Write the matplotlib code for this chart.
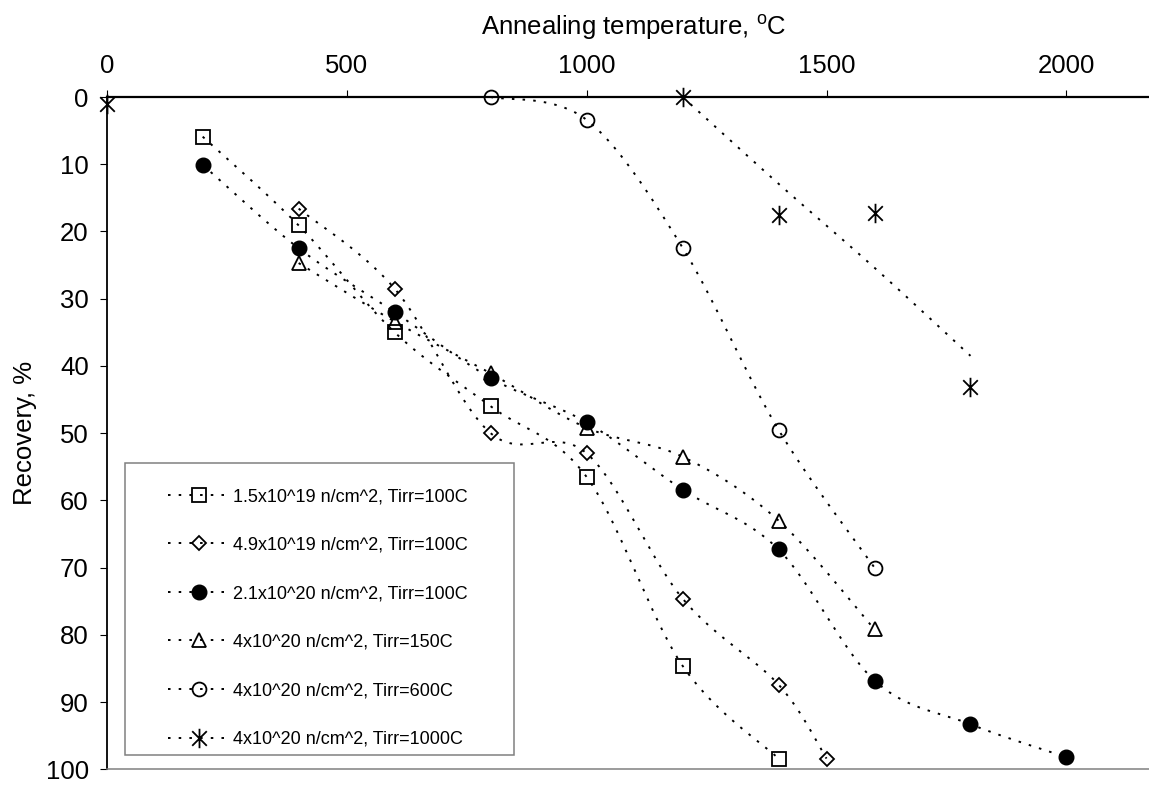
import numpy as np
import matplotlib
matplotlib.use("Agg")
import matplotlib.pyplot as plt
from matplotlib.lines import Line2D
from matplotlib.patches import Rectangle
from matplotlib.path import Path

plt.rcParams["font.family"] = ["Liberation Sans", "DejaVu Sans"]
plt.rcParams["mathtext.fontset"] = "custom"
plt.rcParams["mathtext.rm"] = "Liberation Sans"

# ---- data: annealing temperature (C) vs recovery (%) ----
t_sq = [200, 400, 600, 800, 1000, 1200, 1400]
r_sq = [5.9, 19.1, 35.0, 46.0, 56.5, 84.6, 98.4]

t_di = [400, 600, 800, 1000, 1200, 1400, 1500]
r_di = [16.6, 28.5, 50.0, 53.0, 74.6, 87.4, 98.4]

t_fc = [200, 400, 600, 800, 1000, 1200, 1400, 1600, 1800, 2000]
r_fc = [10.1, 22.5, 32.0, 41.8, 48.4, 58.4, 67.3, 86.8, 93.3, 98.2]

t_tr = [400, 600, 800, 1000, 1200, 1400, 1600]
r_tr = [24.7, 33.4, 41.1, 49.2, 53.5, 63.0, 79.2]

t_oc = [800, 1000, 1200, 1400, 1600]
r_oc = [0.0, 3.4, 22.4, 49.5, 70.0]

t_st = [0, 1200, 1400, 1600, 1800]
r_st = [1.0, 0.0, 17.6, 17.2, 43.1]

# guide line for the Tirr=1000C set
t_st_line = [1200, 1400, 1600, 1800]
r_st_line = [0.0, 12.9, 25.4, 38.5]

labels = [
    "1.5x10^19 n/cm^2, Tirr=100C",
    "4.9x10^19 n/cm^2, Tirr=100C",
    "2.1x10^20 n/cm^2, Tirr=100C",
    "4x10^20 n/cm^2, Tirr=150C",
    "4x10^20 n/cm^2, Tirr=600C",
    "4x10^20 n/cm^2, Tirr=1000C",
]

x_ticks = [0, 500, 1000, 1500, 2000]
y_ticks = list(range(0, 101, 10))


def smooth(xs, ys, n=40):
    """Cubic Bezier spline through the points (Catmull-Rom tangents)."""
    P = np.column_stack([xs, ys]).astype(float)
    out = []
    t = np.linspace(0.0, 1.0, n)[:, None]
    for i in range(len(P) - 1):
        p0 = P[i - 1] if i > 0 else P[i]
        p1, p2 = P[i], P[i + 1]
        p3 = P[i + 2] if i + 2 < len(P) else P[i + 1]
        c1 = p1 + (p2 - p0) / 6.0
        c2 = p2 - (p3 - p1) / 6.0
        seg = ((1 - t) ** 3) * p1 + 3 * ((1 - t) ** 2) * t * c1 \
            + 3 * (1 - t) * t ** 2 * c2 + t ** 3 * p2
        out.append(seg if i == 0 else seg[1:])
    s = np.vstack(out)
    return s[:, 0], s[:, 1]


# six-armed asterisk marker
star = Path(
    [(0, -1), (0, 1), (-0.75, -0.75), (0.75, 0.75), (-0.75, 0.75), (0.75, -0.75)],
    [Path.MOVETO, Path.LINETO, Path.MOVETO, Path.LINETO, Path.MOVETO, Path.LINETO],
)

line_kw = dict(color="black", lw=1.4, dashes=(1.3, 4.2))
styles = [
    dict(marker="s", ms=10, mfc="none", mec="black", mew=1.3),
    dict(marker="D", ms=6.8, mfc="none", mec="black", mew=1.3),
    dict(marker="o", ms=10.5, mfc="black", mec="black", mew=1.0),
    dict(marker="^", ms=10.5, mfc="none", mec="black", mew=1.3),
    dict(marker="o", ms=10, mfc="none", mec="black", mew=1.3),
    dict(marker=star, ms=14, mfc="none", mec="black", mew=1.3),
]

fig = plt.figure(figsize=(11.49, 7.85), dpi=100)
W, H = 1149.0, 785.0
ax = fig.add_axes([106.7 / W, 1 - 769.3 / H, (W - 106.7) / W, (769.3 - 97) / H])

series = [(t_sq, r_sq), (t_di, r_di), (t_fc, r_fc), (t_tr, r_tr), (t_oc, r_oc)]
for (tx, ry), st in zip(series, styles[:5]):
    sx, sy = smooth(tx, ry)
    ax.plot(sx, sy, **line_kw, zorder=2)
    ax.plot(tx, ry, ls="none", clip_on=False, zorder=3, **st)

sx, sy = smooth(t_st_line, r_st_line)
ax.plot(sx, sy, **line_kw, zorder=2)
ax.plot(t_st, r_st, ls="none", clip_on=False, zorder=3, **styles[5])

ax.set_xlim(0, 2172)
ax.set_ylim(100, 0)
ax.xaxis.tick_top()
ax.set_xticks(x_ticks)
ax.set_yticks(y_ticks)
ax.tick_params(axis="x", direction="out", length=5, width=0.8, pad=9,
               labelsize=18.5, color="black")
ax.tick_params(axis="y", direction="out", length=5, width=0.8, pad=8,
               labelsize=18.5, color="black")

ax.spines["right"].set_visible(False)
ax.spines["top"].set_linewidth(1.6)
ax.spines["left"].set_linewidth(1.3)
ax.spines["bottom"].set_linewidth(1.1)
ax.spines["bottom"].set_color("#808080")

ax.xaxis.set_label_position("top")
ax.set_xlabel(r"Annealing temperature, $^{\mathrm{o}}$C", fontsize=18.5, va="center")
ax.xaxis.set_label_coords((634 - 106.7) / (W - 106.7), 1 + (97 - 27) / (769.3 - 97))
ax.set_ylabel("Recovery, %", fontsize=18.5, va="center")
ax.yaxis.set_label_coords((25 - 106.7) / (W - 106.7), 0.5)

# legend frame and entries
frame = Rectangle((125 / W, 1 - 755 / H), (514 - 125) / W, (755 - 463) / H,
                  transform=fig.transFigure, facecolor="white",
                  edgecolor="#808080", lw=1.1, zorder=5)
fig.add_artist(frame)
handles = [Line2D([], [], **line_kw, **st) for st in styles]
leg = fig.legend(handles, labels, loc="upper left",
                 bbox_to_anchor=(168 / W, 1 - 488 / H),
                 frameon=False, fontsize=13, handlelength=3.4,
                 handletextpad=0.2, labelspacing=1.75, borderpad=0.0,
                 borderaxespad=0.0)
leg.set_zorder(6)

fig.savefig("out.png", dpi=100)
